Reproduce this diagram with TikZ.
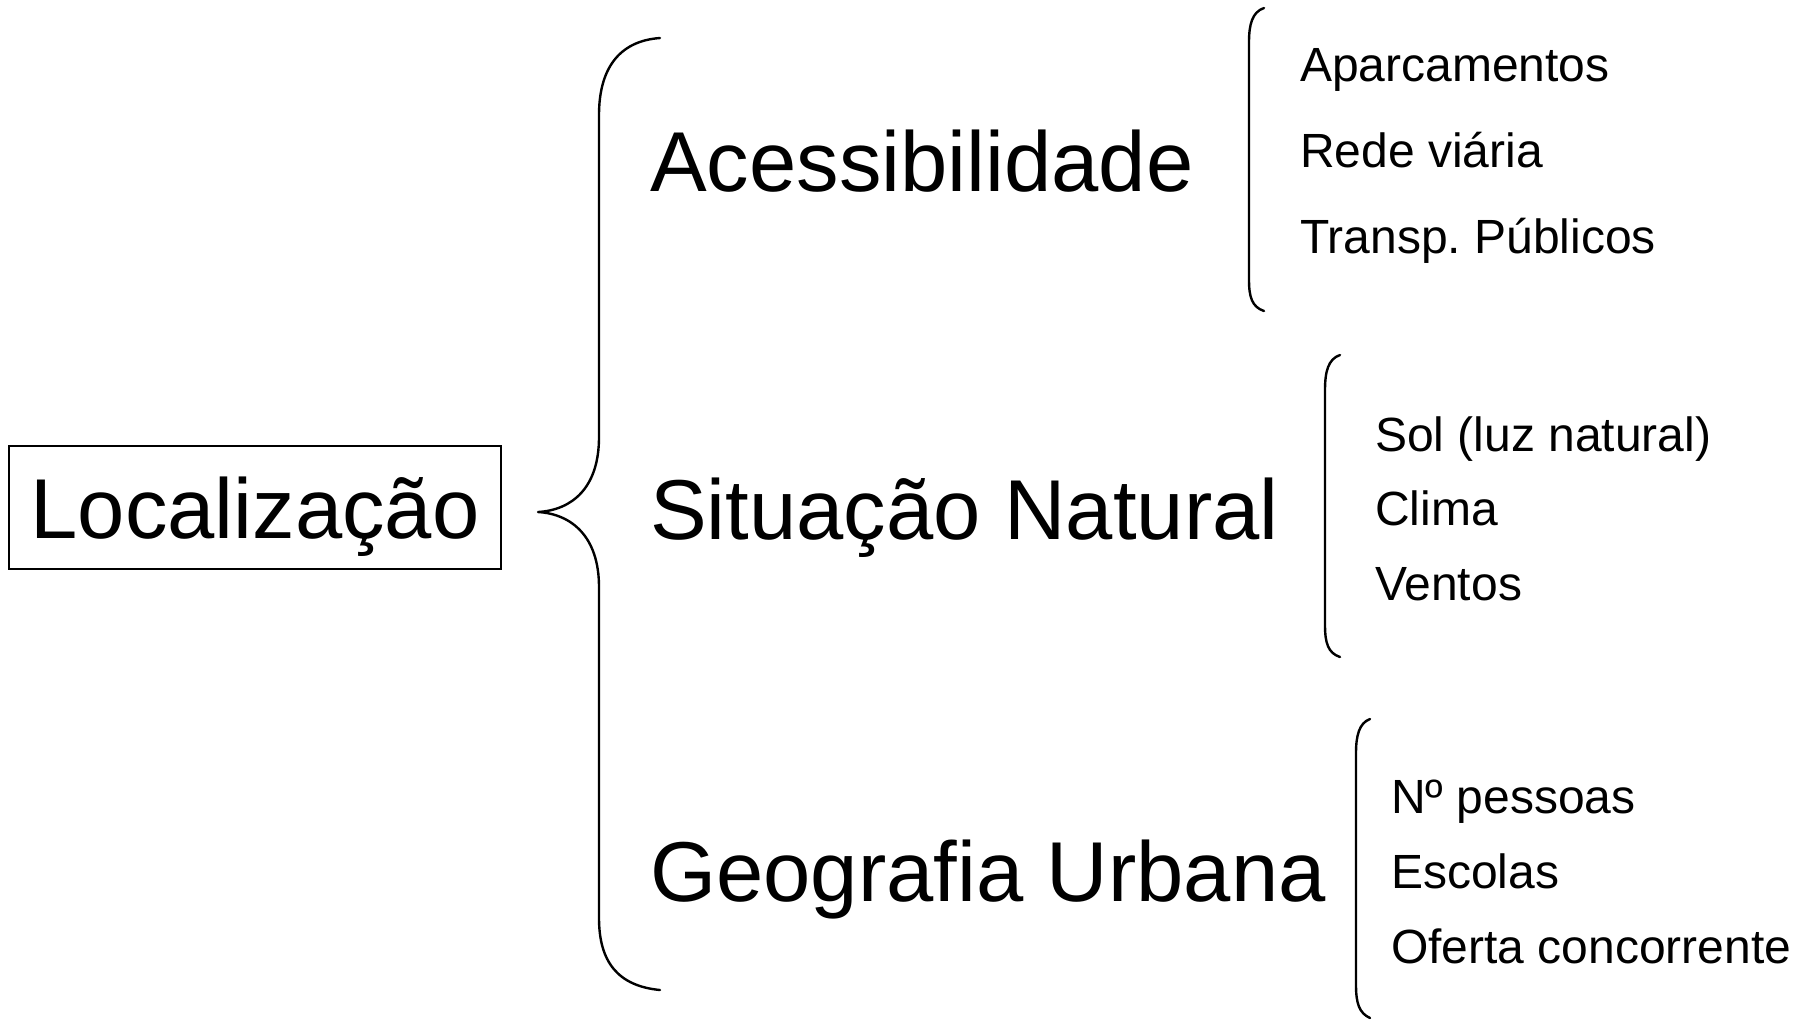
\documentclass[tikz,border=0pt]{standalone}
\usepackage{fontspec}
\setmainfont{Liberation Sans}
\frenchspacing
\begin{document}
\begin{tikzpicture}[x=1pt,y=-1pt,
  bigtxt/.style={anchor=base west,inner sep=0pt,font=\fontsize{85}{100}\selectfont},
  smalltxt/.style={anchor=base west,inner sep=0pt,font=\fontsize{48}{56}\selectfont},
  bracelin/.style={line width=2.4pt,line cap=round,line join=round}]
\useasboundingbox (0,0) rectangle (1806,1021);
\node[draw,line width=2.2pt,minimum width=492pt,minimum height=123pt,text height=61pt,text depth=0pt,inner sep=0pt,font=\fontsize{85}{100}\selectfont] (loc) at (255,507.5) {Localização};
\node[bigtxt] (ace) at (650,191) {Acessibilidade};
\node[bigtxt] (sit) at (650,539) {Situação Natural};
\node[bigtxt] (geo) at (650,901) {Geografia Urbana};
\node[smalltxt] (a1) at (1300,81) {Aparcamentos};
\node[smalltxt] (a2) at (1300,167) {Rede viária};
\node[smalltxt] (a3) at (1300,253) {Transp.\ Públicos};
\node[smalltxt] (s1) at (1375,451) {Sol (luz natural)};
\node[smalltxt] (s2) at (1375,525) {Clima};
\node[smalltxt] (s3) at (1375,600) {Ventos};
\node[smalltxt] (g1) at (1391,813) {Nº pessoas};
\node[smalltxt] (g2) at (1391,888) {Escolas};
\node[smalltxt] (g3) at (1391,963) {Oferta concorrente};
% big brace
\draw[bracelin] (660,38) .. controls (618,41) and (599,70) .. (599,115) -- (599,437)
  .. controls (599,488) and (572,510) .. (538,512)
  .. controls (572,514) and (599,537) .. (599,587) -- (599,918)
  .. controls (599,962) and (618,986) .. (660,990);
% small braces
\draw[bracelin] (1264,8) .. controls (1252,12) and (1249,25) .. (1249,42) -- (1249,280) .. controls (1249,297) and (1252,307) .. (1264,311);
\draw[bracelin] (1340,355) .. controls (1328,359) and (1325,372) .. (1325,390) -- (1325,625) .. controls (1325,643) and (1328,653) .. (1340,657);
\draw[bracelin] (1370,719) .. controls (1359,723) and (1356,736) .. (1356,753) -- (1356,985) .. controls (1356,1003) and (1359,1013) .. (1370,1018);
\end{tikzpicture}
\end{document}
